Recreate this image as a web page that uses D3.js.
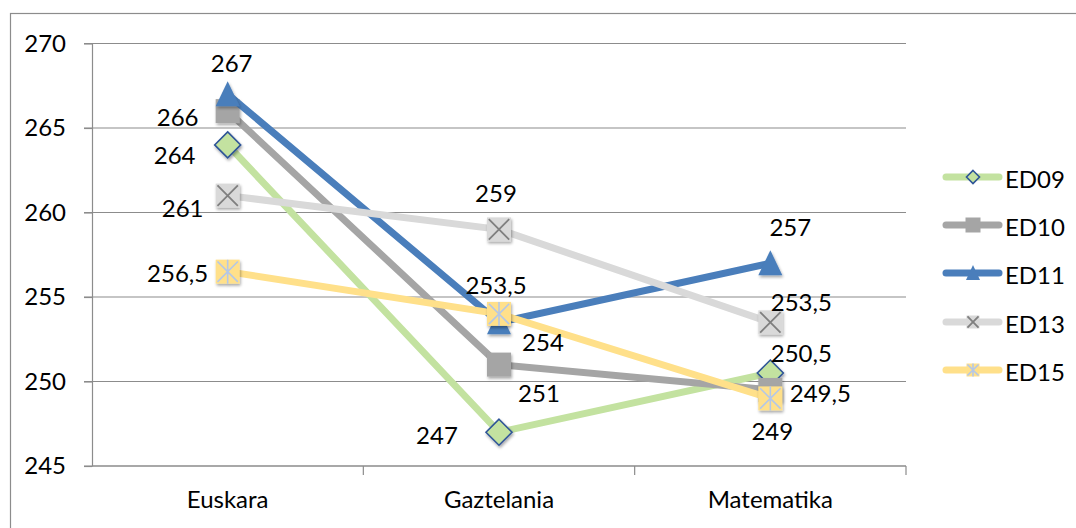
<!DOCTYPE html>
<html>
<head>
<meta charset="utf-8">
<script src="https://cdn.jsdelivr.net/npm/d3@7"></script>
<style>
  html, body { margin: 0; padding: 0; background: #fff; }
  svg { display: block; font-family: "Lato", "Open Sans", sans-serif; }
</style>
</head>
<body>
<svg id="chart" width="1076" height="528"></svg>
<script>
// Subjects along the horizontal axis
const categories = ["Euskara", "Gaztelania", "Matematika"];

// Scores for each assessment round
const ed09 = [264, 247, 250.5];
const ed10 = [266, 251, 249.5];
const ed11 = [267, 253.5, 257];
const ed13 = [261, 259, 253.5];
const ed15 = [256.5, 254, 249];

const seriesNames = ["ED09", "ED10", "ED11", "ED13", "ED15"];
const yTicks = [245, 250, 255, 260, 265, 270];

// Label offsets (dx, dy) for each point's value label, by series and category
const labelOffsets = {
  ED09: [[-53, 10], [-62, 2], [31, -21]],
  ED10: [[-50, 5], [40, 28], [50, 3]],
  ED11: [[4, -32], [-3, -38], [20, -37]],
  ED13: [[-45, 12], [-3, -37], [31, -21]],
  ED15: [[-50, 1], [44, 28], [2, 32]]
};

const styles = {
  ED09: { line: "#c3e2a0", marker: "diamond", fill: "#c3e2a0", stroke: "#2f5597" },
  ED10: { line: "#a5a5a5", marker: "square", fill: "#a5a5a5", stroke: "none" },
  ED11: { line: "#4a7ebb", marker: "triangle", fill: "#4a7ebb", stroke: "none" },
  ED13: { line: "#d9d9d9", marker: "cross", fill: "#d9d9d9", stroke: "#7f7f7f" },
  ED15: { line: "#ffe08a", marker: "star", fill: "#ffe08a", stroke: "#b4c7e7" }
};

const data = [ed09, ed10, ed11, ed13, ed15].map((vals, i) => ({
  name: seriesNames[i],
  values: vals.map((v, j) => ({ cat: categories[j], value: v, j }))
}));

const FS = 24;
const svg = d3.select("#chart");

// Soft shadow under markers
const defs = svg.append("defs");
const f = defs.append("filter").attr("id", "shadow").attr("x", "-50%").attr("y", "-50%").attr("width", "200%").attr("height", "200%");
f.append("feGaussianBlur").attr("in", "SourceAlpha").attr("stdDeviation", 1.5).attr("result", "b");
f.append("feOffset").attr("in", "b").attr("dx", 1).attr("dy", 2).attr("result", "o");
f.append("feComponentTransfer").attr("in", "o").attr("result", "t")
  .append("feFuncA").attr("type", "linear").attr("slope", 0.35);
const m = f.append("feMerge");
m.append("feMergeNode").attr("in", "t");
m.append("feMergeNode").attr("in", "SourceGraphic");

// Outer chart frame
svg.append("rect")
  .attr("x", 10.5).attr("y", 13.5).attr("width", 1080).attr("height", 540)
  .attr("fill", "none").attr("stroke", "#8c8c8c").attr("stroke-width", 1.2);

const plot = { left: 92, right: 906, top: 43.5, bottom: 466 };

const x = d3.scaleBand().domain(categories).range([plot.left, plot.right]);
const y = d3.scaleLinear().domain([245, 270]).range([plot.bottom, plot.top]);

const axisColor = "#8c8c8c";

// Horizontal gridlines
svg.append("g").selectAll("line").data(yTicks).join("line")
  .attr("x1", plot.left - 8).attr("x2", plot.right)
  .attr("y1", d => y(d)).attr("y2", d => y(d))
  .attr("stroke", axisColor).attr("stroke-width", 1.2);

// Y axis
const yAxis = svg.append("g")
  .attr("transform", `translate(${plot.left},0)`)
  .call(d3.axisLeft(y).tickValues(yTicks).tickSize(8).tickSizeOuter(0).tickFormat(d3.format("d")));
yAxis.select(".domain").attr("stroke", axisColor).attr("stroke-width", 1.2);
yAxis.selectAll(".tick line").attr("stroke", axisColor).attr("stroke-width", 1.2);
yAxis.selectAll(".tick text")
  .attr("x", -26).attr("text-anchor", "end")
  .attr("font-size", FS).attr("fill", "#000").attr("font-family", "Lato, sans-serif");

// X axis with ticks at category boundaries
const xAxisG = svg.append("g").attr("transform", `translate(0,${plot.bottom})`);
xAxisG.append("line").attr("x1", plot.left).attr("x2", plot.right)
  .attr("stroke", axisColor).attr("stroke-width", 1.2);
const boundaries = categories.map(c => x(c) + x.bandwidth());
xAxisG.selectAll("line.tk").data(boundaries).join("line").attr("class", "tk")
  .attr("x1", d => d).attr("x2", d => d).attr("y1", 0).attr("y2", 9)
  .attr("stroke", axisColor).attr("stroke-width", 1.2);
xAxisG.selectAll("text").data(categories).join("text")
  .attr("x", d => x(d) + x.bandwidth() / 2).attr("y", 32)
  .attr("text-anchor", "middle").attr("dominant-baseline", "central")
  .attr("font-size", FS).attr("fill", "#000")
  .text(d => d);

const cx = d => x(d.cat) + x.bandwidth() / 2;

// Marker drawing
function drawMarker(g, type, s, size) {
  const h = size / 2;
  if (type === "diamond") {
    g.append("path").attr("d", `M0,${-h}L${h},0L0,${h}L${-h},0Z`)
      .attr("fill", s.fill).attr("stroke", s.stroke).attr("stroke-width", 1.6);
  } else if (type === "square") {
    g.append("rect").attr("x", -h).attr("y", -h).attr("width", size).attr("height", size).attr("fill", s.fill);
  } else if (type === "triangle") {
    g.append("path").attr("d", `M0,${-h - 1}L${h},${h}L${-h},${h}Z`).attr("fill", s.fill);
  } else if (type === "cross") {
    g.append("rect").attr("x", -h).attr("y", -h).attr("width", size).attr("height", size).attr("fill", s.fill);
    const k = h * 0.85;
    g.append("path").attr("d", `M${-k},${-k}L${k},${k}M${k},${-k}L${-k},${k}`)
      .attr("stroke", s.stroke).attr("stroke-width", 1.8).attr("fill", "none");
  } else if (type === "star") {
    g.append("rect").attr("x", -h).attr("y", -h).attr("width", size).attr("height", size).attr("fill", s.fill);
    const k = h * 0.85;
    g.append("path").attr("d", `M${-k},${-k}L${k},${k}M${k},${-k}L${-k},${k}M0,${-h}L0,${h}`)
      .attr("stroke", s.stroke).attr("stroke-width", 1.6).attr("fill", "none");
  }
}

const line = d3.line().x(cx).y(d => y(d.value));
const fmt = v => String(v).replace(".", ",");

data.forEach(series => {
  const s = styles[series.name];
  const g = svg.append("g");
  g.append("path").datum(series.values).attr("d", line)
    .attr("fill", "none").attr("stroke", s.line).attr("stroke-width", 7)
    .attr("stroke-linejoin", "round");
  series.values.forEach(d => {
    const mg = g.append("g").attr("transform", `translate(${cx(d)},${y(d.value)})`)
      .attr("filter", "url(#shadow)");
    drawMarker(mg, s.marker, s, s.marker === "diamond" ? 26 : 24);
  });
});

// Value labels
data.forEach(series => {
  series.values.forEach(d => {
    const [dx, dy] = labelOffsets[series.name][d.j];
    svg.append("text")
      .attr("x", cx(d) + dx).attr("y", y(d.value) + dy)
      .attr("text-anchor", "middle").attr("dominant-baseline", "central")
      .attr("font-size", FS).attr("fill", "#000")
      .text(fmt(d.value));
  });
});

// Legend
const legend = svg.append("g");
const legY = [177, 225, 273, 322, 370];
data.forEach((series, i) => {
  const s = styles[series.name];
  const lg = legend.append("g").attr("transform", `translate(0,${legY[i]})`);
  lg.append("line").attr("x1", 946).attr("x2", 999)
    .attr("stroke", s.line).attr("stroke-width", 7).attr("stroke-linecap", "round");
  const mg = lg.append("g").attr("transform", "translate(973,0)");
  drawMarker(mg, s.marker, s, s.marker === "triangle" ? 14 : (s.marker === "square" ? 15 : 13));
  lg.append("text").attr("x", 1005).attr("y", 1)
    .attr("dominant-baseline", "central").attr("font-size", FS).attr("fill", "#000")
    .text(series.name);
});
</script>
</body>
</html>
